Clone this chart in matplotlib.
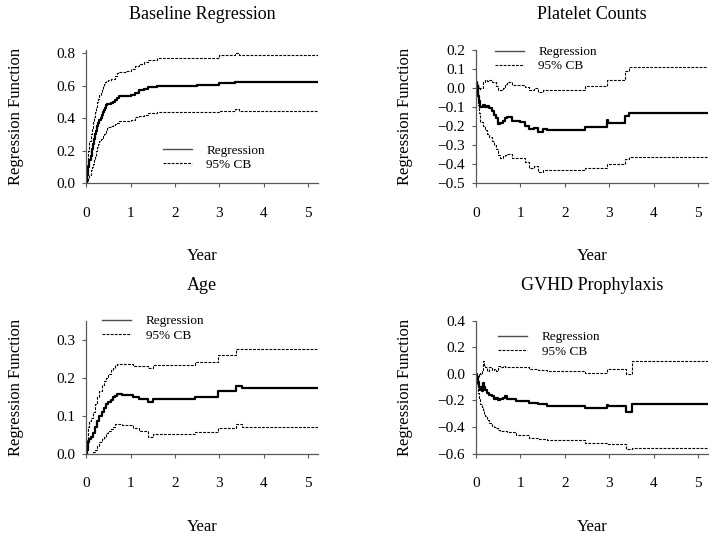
import matplotlib
matplotlib.use('Agg')
import matplotlib.pyplot as plt
from matplotlib.lines import Line2D

plt.rcParams['font.family'] = ['Liberation Serif', 'DejaVu Serif']

# Baseline regression (step function estimates)
base_t = [0, 0.025, 0.05, 0.075, 0.1, 0.125, 0.15, 0.175, 0.2, 0.225, 0.25, 0.275, 0.3, 0.325, 0.35, 0.375, 0.4, 0.425, 0.45, 0.475,
          0.5, 0.55, 0.6, 0.65, 0.7, 0.75, 0.9, 1.0, 1.1, 1.2, 1.3, 1.4, 1.6, 2.5, 3.0, 3.35, 3.45, 5.22]
base_reg = [0, 0.05, 0.1, 0.14, 0.17, 0.21, 0.24, 0.27, 0.3, 0.32, 0.35, 0.37, 0.39, 0.4, 0.42, 0.44, 0.45, 0.465, 0.48, 0.485,
            0.49, 0.495, 0.5, 0.51, 0.525, 0.535, 0.535, 0.545, 0.555, 0.575, 0.58, 0.59, 0.6, 0.605, 0.615, 0.625, 0.62, 0.62]
base_up = [0, 0.12, 0.2, 0.26, 0.3, 0.34, 0.38, 0.41, 0.44, 0.47, 0.5, 0.52, 0.54, 0.56, 0.58, 0.6, 0.61, 0.62, 0.63, 0.63,
           0.635, 0.64, 0.64, 0.66, 0.675, 0.685, 0.69, 0.7, 0.72, 0.735, 0.745, 0.755, 0.77, 0.77, 0.79, 0.8, 0.79, 0.79]
base_lo = [0, 0.01, 0.03, 0.05, 0.08, 0.1, 0.12, 0.15, 0.17, 0.2, 0.22, 0.24, 0.26, 0.27, 0.28, 0.29, 0.3, 0.31, 0.33, 0.34,
           0.345, 0.35, 0.36, 0.365, 0.37, 0.38, 0.385, 0.39, 0.405, 0.415, 0.42, 0.43, 0.435, 0.44, 0.445, 0.455, 0.445, 0.445]

# Platelet counts
plt_t = [0, 0.02, 0.04, 0.06, 0.08, 0.1, 0.15, 0.2, 0.25, 0.3, 0.35, 0.4, 0.45, 0.5, 0.55, 0.6, 0.65, 0.7, 0.8, 1.0,
         1.1, 1.2, 1.3, 1.4, 1.5, 1.6, 2.45, 2.95, 2.98, 3.35, 3.45, 5.22]
plt_reg = [0.03, 0.01, -0.04, -0.07, -0.09, -0.1, -0.09, -0.1, -0.095, -0.105, -0.12, -0.14, -0.16, -0.19, -0.185, -0.175, -0.16, -0.155, -0.175, -0.18,
           -0.2, -0.215, -0.21, -0.23, -0.215, -0.22, -0.205, -0.17, -0.185, -0.145, -0.13, -0.13]
plt_up = [0.03, 0.02, 0.01, 0.0, -0.01, 0.0, 0.03, 0.04, 0.035, 0.04, 0.03, 0.03, 0.01, -0.01, -0.01, 0.0, 0.02, 0.03, 0.015, 0.015,
          0.005, -0.01, 0.0, -0.02, -0.01, -0.01, 0.01, 0.04, 0.04, 0.09, 0.11, 0.11]
plt_lo = [0.03, -0.02, -0.09, -0.13, -0.16, -0.18, -0.2, -0.22, -0.24, -0.26, -0.28, -0.3, -0.32, -0.35, -0.37, -0.36, -0.35, -0.345, -0.37, -0.37,
          -0.39, -0.42, -0.41, -0.44, -0.43, -0.43, -0.42, -0.4, -0.4, -0.375, -0.365, -0.365]

# Age
age_t = [0, 0.025, 0.05, 0.075, 0.1, 0.15, 0.2, 0.25, 0.3, 0.35, 0.4, 0.45, 0.5, 0.55, 0.6, 0.65, 0.7, 0.8, 1.05, 1.2,
         1.4, 1.5, 2.45, 2.97, 3.37, 3.5, 5.22]
age_reg = [0, 0.01, 0.03, 0.04, 0.045, 0.055, 0.07, 0.085, 0.1, 0.11, 0.12, 0.13, 0.135, 0.14, 0.148, 0.152, 0.157, 0.155, 0.148, 0.145,
           0.135, 0.143, 0.15, 0.165, 0.178, 0.173, 0.173]
age_up = [0, 0.04, 0.07, 0.085, 0.095, 0.11, 0.13, 0.15, 0.165, 0.18, 0.19, 0.2, 0.21, 0.22, 0.225, 0.232, 0.236, 0.235, 0.23, 0.23,
          0.225, 0.233, 0.24, 0.26, 0.275, 0.275, 0.275]
age_lo = [0, -0.005, -0.01, -0.005, 0.0, 0.005, 0.01, 0.02, 0.03, 0.04, 0.045, 0.055, 0.06, 0.065, 0.07, 0.078, 0.078, 0.076, 0.068, 0.06,
          0.045, 0.052, 0.058, 0.068, 0.078, 0.07, 0.07]

# GVHD prophylaxis
gvhd_t = [0, 0.02, 0.04, 0.06, 0.08, 0.1, 0.125, 0.15, 0.175, 0.2, 0.25, 0.3, 0.35, 0.4, 0.45, 0.5, 0.55, 0.6, 0.65, 0.7,
          0.9, 1.2, 1.4, 1.6, 2.45, 2.95, 2.98, 3.37, 3.5, 5.22]
gvhd_reg = [0, -0.02, -0.06, -0.1, -0.12, -0.1, -0.13, -0.07, -0.1, -0.12, -0.14, -0.16, -0.17, -0.19, -0.18, -0.2, -0.19, -0.18, -0.17, -0.19,
            -0.205, -0.22, -0.23, -0.24, -0.255, -0.235, -0.245, -0.285, -0.23, -0.23]
gvhd_up = [0, -0.03, -0.02, 0.0, 0.01, 0.0, 0.03, 0.1, 0.07, 0.05, 0.02, 0.05, 0.03, 0.04, 0.02, 0.06, 0.05, 0.06, 0.055, 0.055,
           0.05, 0.04, 0.03, 0.02, 0.005, 0.04, 0.035, 0.0, 0.1, 0.1]
gvhd_lo = [0, -0.08, -0.14, -0.18, -0.21, -0.23, -0.25, -0.27, -0.3, -0.32, -0.35, -0.37, -0.39, -0.4, -0.41, -0.42, -0.43, -0.43, -0.43, -0.44,
           -0.46, -0.48, -0.49, -0.5, -0.52, -0.53, -0.53, -0.565, -0.56, -0.56]

panels = [
    ('Baseline Regression', base_t, base_reg, base_up, base_lo, (0, 0.82), [0, 0.2, 0.4, 0.6, 0.8], (0.33, 0.29)),
    ('Platelet Counts', plt_t, plt_reg, plt_up, plt_lo, (-0.5, 0.2), [-0.5, -0.4, -0.3, -0.2, -0.1, 0.0, 0.1, 0.2], (0.08, 1.03)),
    ('Age', age_t, age_reg, age_up, age_lo, (0, 0.35), [0, 0.1, 0.2, 0.3], (0.07, 1.04)),
    ('GVHD Prophylaxis', gvhd_t, gvhd_reg, gvhd_up, gvhd_lo, (-0.6, 0.4), [-0.6, -0.4, -0.2, 0.0, 0.2, 0.4], (0.095, 0.92)),
]
positions = [(0.12, 0.659), (0.663, 0.659), (0.12, 0.155), (0.663, 0.155)]
dash = (0, (2.5, 1.2))

fig = plt.figure(figsize=(7.18, 5.37), dpi=100)

for (title, t, reg, up, lo, ylim, yticks, leg), (x0, y0) in zip(panels, positions):
    ax = fig.add_axes([x0, y0, 0.323, 0.248])
    ax.plot(t, up, color='black', lw=0.8, ls=dash, drawstyle='steps-post')
    ax.plot(t, lo, color='black', lw=0.8, ls=dash, drawstyle='steps-post')
    ax.plot(t, reg, color='black', lw=1.6, drawstyle='steps-post')
    ax.set_xlim(0, 5.22)
    ax.set_ylim(*ylim)
    ax.set_xticks([0, 1, 2, 3, 4, 5])
    ax.set_yticks(yticks)
    ax.set_yticklabels([('%.1f' % v).replace('-', '\u2212') for v in yticks])
    for s in ['top', 'right']:
        ax.spines[s].set_visible(False)
    for s in ['left', 'bottom']:
        ax.spines[s].set_color('0.35')
        ax.spines[s].set_linewidth(0.9)
    ax.tick_params(axis='x', length=3, pad=14, labelsize=11, color='0.35')
    ax.tick_params(axis='y', length=3, pad=5, labelsize=11, color='0.35')
    ax.set_title(title, fontsize=13, pad=22)
    ax.set_xlabel('Year', fontsize=12)
    ax.set_ylabel('Regression Function', fontsize=12)
    ax.xaxis.set_label_coords(0.5, -0.49)
    ax.yaxis.set_label_coords(-0.27, 0.5)
    handles = [Line2D([], [], color='0.3', lw=1.0),
               Line2D([], [], color='black', lw=0.8, ls=dash)]
    ax.legend(handles, ['Regression', '95% CB'], loc='upper left', bbox_to_anchor=leg,
              frameon=False, fontsize=9.5, handlelength=2.2, handletextpad=1.1,
              labelspacing=0.15, borderpad=0, borderaxespad=0)

fig.savefig('out.png', dpi=100)
